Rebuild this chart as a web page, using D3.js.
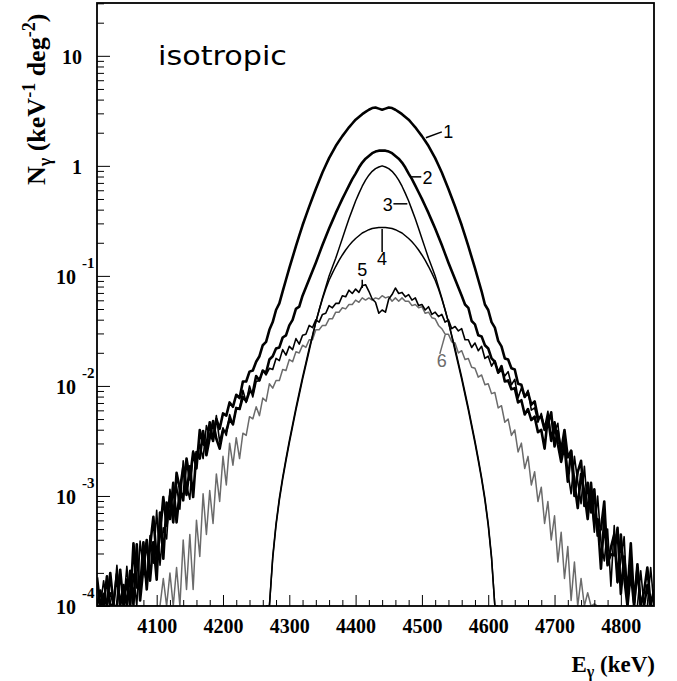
<!DOCTYPE html>
<html>
<head>
<meta charset="utf-8">
<script src="https://cdn.jsdelivr.net/npm/d3@7"></script>
<style>
  body { margin: 0; background: #fff; }
  svg { display: block; }
</style>
</head>
<body>
<div id="chart"></div>
<script>
// bin centres (keV)
const energies = d3.range(4010, 4851, 5);
const energiesNarrow = d3.range(4265, 4616, 5);

// log10 of N_gamma
const logN1 = [
  -3.74,-4.25,-3.89,-4.37,-3.7,-4.02,-4.25,-3.67,-4.05,-3.76,
  -4.22,-3.43,-3.83,-3.85,-3.42,-3.85,-3.46,-3.19,-3.57,-3.35,
  -3.01,-3.27,-3.0,-3.24,-2.79,-2.94,-3.04,-2.66,-2.85,-2.6,
  -2.75,-2.4,-2.53,-2.55,-2.33,-2.5,-2.3,-2.39,-2.25,-2.27,
  -2.15,-2.19,-2.08,-2.11,-1.96,-1.96,-1.87,-1.86,-1.78,-1.73,
  -1.63,-1.6,-1.49,-1.42,-1.31,-1.25,-1.14,-1.035,-0.93,-0.83,
  -0.73,-0.635,-0.54,-0.455,-0.37,-0.29,-0.21,-0.135,-0.06,0.005,
  0.07,0.125,0.18,0.225,0.27,0.31,0.35,0.385,0.42,0.445,
  0.47,0.49,0.51,0.525,0.53,0.52,0.51,0.52,0.53,0.525,
  0.51,0.49,0.47,0.445,0.42,0.385,0.35,0.31,0.27,0.225,
  0.18,0.125,0.07,0.005,-0.06,-0.135,-0.21,-0.29,-0.37,-0.455,
  -0.54,-0.635,-0.73,-0.83,-0.93,-1.035,-1.14,-1.26,-1.31,-1.42,
  -1.47,-1.59,-1.64,-1.75,-1.76,-1.84,-1.85,-1.98,-1.99,-2.1,
  -2.06,-2.17,-2.14,-2.29,-2.28,-2.4,-2.34,-2.24,-2.55,-2.41,
  -2.59,-2.4,-2.65,-2.59,-3.0,-2.78,-2.68,-3.09,-2.88,-3.15,
  -2.94,-3.36,-3.3,-3.05,-3.61,-3.53,-3.54,-3.29,-3.89,-3.55,
  -3.89,-3.43,-3.97,-3.66,-4.3,-3.87,-3.65,-4.27,-3.85
];
const logN2 = [
  -4.38,-3.86,-4.2,-3.73,-4.41,-3.98,-3.71,-4.18,-3.81,-4.32,
  -3.68,-3.99,-3.44,-3.95,-3.65,-3.4,-3.77,-3.42,-3.76,-3.15,
  -3.57,-3.06,-3.21,-2.88,-3.24,-2.94,-2.74,-2.99,-2.73,-3.01,
  -2.6,-2.66,-2.41,-2.63,-2.47,-2.32,-2.48,-2.57,-2.41,-2.41,
  -2.3,-2.35,-2.2,-2.21,-2.1,-2.14,-2.05,-2.06,-1.91,-1.95,
  -1.86,-1.88,-1.76,-1.73,-1.66,-1.65,-1.56,-1.54,-1.45,-1.4,
  -1.3,-1.28,-1.18,-1.105,-1.03,-0.955,-0.88,-0.8,-0.72,-0.645,
  -0.57,-0.5,-0.43,-0.365,-0.3,-0.24,-0.18,-0.12,-0.07,-0.015,
  0.03,0.065,0.09,0.115,0.13,0.138,0.14,0.138,0.13,0.115,
  0.09,0.065,0.03,-0.015,-0.07,-0.12,-0.18,-0.24,-0.3,-0.365,
  -0.43,-0.5,-0.57,-0.645,-0.72,-0.8,-0.88,-0.955,-1.03,-1.105,
  -1.18,-1.26,-1.29,-1.41,-1.44,-1.54,-1.55,-1.63,-1.66,-1.75,
  -1.78,-1.88,-1.82,-1.96,-1.95,-2.03,-2.02,-2.15,-2.13,-2.26,
  -2.21,-2.31,-2.28,-2.42,-2.4,-2.57,-2.28,-2.5,-2.33,-2.53,
  -2.69,-2.54,-2.87,-2.59,-2.88,-3.11,-2.8,-2.97,-3.21,-2.88,
  -3.24,-3.21,-3.66,-3.2,-3.63,-3.47,-3.35,-3.78,-3.35,-3.74,
  -4.14,-3.69,-4.13,-3.62,-4.06,-4.38,-3.81,-4.03,-4.36
];
const logN3 = [
  -4.5,-4.0,-3.55,-3.25,-3.02,-2.83,-2.66,-2.5,-2.35,-2.2,
  -2.06,-1.92,-1.79,-1.66,-1.54,-1.42,-1.31,-1.2,-1.1,-1.0,
  -0.92,-0.84,-0.75,-0.66,-0.57,-0.48,-0.4,-0.32,-0.25,-0.185,
  -0.13,-0.085,-0.05,-0.025,-0.01,0.0,-0.01,-0.025,-0.05,-0.085,
  -0.13,-0.185,-0.25,-0.32,-0.4,-0.48,-0.57,-0.66,-0.75,-0.84,
  -0.92,-1.0,-1.1,-1.2,-1.31,-1.42,-1.54,-1.66,-1.79,-1.92,
  -2.06,-2.2,-2.35,-2.5,-2.66,-2.83,-3.02,-3.25,-3.55,-4.0,-4.5
];
const logN4 = [
  -4.5,-4.02,-3.57,-3.27,-3.04,-2.85,-2.68,-2.52,-2.37,-2.22,
  -2.08,-1.94,-1.81,-1.68,-1.55,-1.42,-1.31,-1.21,-1.12,-1.04,
  -0.975,-0.915,-0.86,-0.81,-0.765,-0.725,-0.69,-0.66,-0.635,-0.61,
  -0.595,-0.58,-0.57,-0.565,-0.561,-0.56,-0.561,-0.565,-0.57,-0.58,
  -0.595,-0.61,-0.635,-0.66,-0.69,-0.725,-0.765,-0.81,-0.86,-0.915,
  -0.975,-1.04,-1.12,-1.21,-1.31,-1.42,-1.55,-1.68,-1.81,-1.94,
  -2.08,-2.22,-2.37,-2.52,-2.68,-2.85,-3.04,-3.27,-3.57,-4.02,-4.5
];
const logN5 = [
  -4.05,-4.43,-3.77,-4.2,-3.88,-4.3,-3.63,-4.05,-4.33,-3.64,
  -4.05,-3.71,-4.11,-3.41,-3.66,-3.79,-3.36,-3.61,-3.13,-3.63,
  -3.29,-3.39,-2.94,-3.15,-2.91,-3.12,-2.68,-2.9,-3.03,-2.59,
  -2.7,-2.53,-2.66,-2.36,-2.46,-2.49,-2.27,-2.51,-2.38,-2.45,
  -2.26,-2.35,-2.2,-2.21,-2.04,-2.15,-2.0,-2.1,-1.96,-1.95,
  -1.86,-1.9,-1.84,-1.85,-1.75,-1.77,-1.67,-1.72,-1.64,-1.67,
  -1.57,-1.62,-1.54,-1.53,-1.45,-1.47,-1.4,-1.42,-1.35,-1.34,
  -1.27,-1.29,-1.25,-1.25,-1.18,-1.19,-1.13,-1.16,-1.12,-1.15,
  -1.09,-1.08,-1.14,-1.21,-1.24,-1.34,-1.31,-1.33,-1.21,-1.17,
  -1.11,-1.16,-1.15,-1.19,-1.17,-1.22,-1.2,-1.27,-1.26,-1.31,
  -1.28,-1.35,-1.33,-1.37,-1.35,-1.42,-1.4,-1.48,-1.46,-1.5,
  -1.48,-1.58,-1.58,-1.65,-1.61,-1.68,-1.64,-1.75,-1.73,-1.82,
  -1.77,-1.88,-1.86,-1.91,-1.87,-1.99,-1.94,-2.11,-2.02,-2.1,
  -2.04,-2.22,-2.2,-2.33,-2.25,-2.38,-2.23,-2.49,-2.42,-2.34,
  -2.66,-2.49,-2.78,-2.98,-2.64,-2.87,-3.07,-2.73,-3.12,-3.0,
  -3.33,-3.0,-3.41,-3.59,-3.3,-3.82,-3.27,-3.79,-3.58,-3.37,
  -4.11,-3.61,-4.0,-4.29,-3.68,-4.0,-4.28,-3.65,-4.23
];
const logN6 = [
  -4.3,-4.3,-4.3,-4.3,-4.3,-4.3,-4.3,-4.3,-4.3,-4.3,
  -4.3,-4.3,-4.3,-4.3,-4.3,-4.3,-4.3,-4.3,-4.3,-4.4,
  -3.75,-4.3,-3.7,-4.35,-3.65,-4.1,-3.4,-3.85,-3.35,-3.85,
  -3.22,-3.55,-2.98,-3.35,-2.95,-3.25,-2.8,-3.05,-2.64,-2.9,
  -2.52,-2.72,-2.47,-2.66,-2.43,-2.45,-2.28,-2.3,-2.19,-2.27,
  -2.11,-2.14,-1.98,-2.02,-1.95,-1.95,-1.85,-1.86,-1.76,-1.78,
  -1.69,-1.7,-1.63,-1.65,-1.58,-1.58,-1.49,-1.49,-1.45,-1.45,
  -1.39,-1.39,-1.33,-1.33,-1.29,-1.3,-1.26,-1.26,-1.22,-1.24,
  -1.2,-1.22,-1.2,-1.22,-1.2,-1.21,-1.18,-1.2,-1.19,-1.23,
  -1.2,-1.23,-1.2,-1.23,-1.23,-1.27,-1.26,-1.29,-1.28,-1.34,
  -1.33,-1.38,-1.39,-1.45,-1.48,-1.53,-1.53,-1.6,-1.61,-1.7,
  -1.68,-1.76,-1.75,-1.83,-1.84,-1.92,-1.9,-1.99,-1.98,-2.07,
  -2.06,-2.2,-2.18,-2.33,-2.3,-2.45,-2.4,-2.6,-2.52,-2.75,
  -2.64,-2.9,-2.78,-3.05,-2.92,-3.25,-3.05,-3.4,-3.18,-3.6,
  -3.33,-3.75,-3.46,-3.95,-3.6,-4.1,-3.75,-4.2,-3.88,-4.3,
  -3.98,-4.3,-4.1,-4.3,-4.3,-4.3,-4.3,-4.3,-4.3,-4.3,
  -4.3,-4.3,-4.3,-4.3,-4.3,-4.3,-4.3,-4.3,-4.3
];

const xTicks = [4100, 4200, 4300, 4400, 4500, 4600, 4700, 4800];
const yDecades = [1e-4, 1e-3, 1e-2, 1e-1, 1, 10];
const yExponents = ["-4", "-3", "-2", "-1", "", ""];
const curveNames = ["1", "2", "3", "4", "5", "6"];

const W = 677, H = 681;
const plot = {left: 97, top: 3, right: 654, bottom: 606};
const serif = "'Liberation Serif', 'Times New Roman', serif";
const sans = "'Liberation Sans', Arial, sans-serif";
const grey = "#6b6b6b";

const x = d3.scaleLinear().domain([4010, 4850]).range([plot.left, plot.right]);
const y = d3.scaleLog().domain([1e-4, Math.pow(10, 1.48)]).range([plot.bottom, plot.top]);

const svg = d3.select("#chart").append("svg")
    .attr("width", W)
    .attr("height", H);

svg.append("rect").attr("width", W).attr("height", H).attr("fill", "white");

svg.append("clipPath")
    .attr("id", "plot-area")
    .append("rect")
    .attr("x", plot.left)
    .attr("y", plot.top)
    .attr("width", plot.right - plot.left)
    .attr("height", plot.bottom - plot.top);

// curves, grey one underneath
const series = [
    {e: energies, v: logN6, color: grey, width: 1.5},
    {e: energies, v: logN5, color: "#000", width: 1.6},
    {e: energiesNarrow, v: logN4, color: "#000", width: 1.5},
    {e: energiesNarrow, v: logN3, color: "#000", width: 1.5},
    {e: energies, v: logN2, color: "#000", width: 2.6},
    {e: energies, v: logN1, color: "#000", width: 2.6}
];

const line = d3.line()
    .x(d => x(d[0]))
    .y(d => y(Math.max(d[1], 1e-4)));

const curves = svg.append("g").attr("clip-path", "url(#plot-area)");

series.forEach(s => {
    const pts = s.e.map((e, i) => [e, Math.pow(10, s.v[i])]);
    curves.append("path")
        .datum(pts)
        .attr("fill", "none")
        .attr("stroke", s.color)
        .attr("stroke-width", s.width)
        .attr("stroke-linejoin", "round")
        .attr("d", line);
});

// x axis ticks (pointing up) and labels
const xMinor = d3.range(4020, 4850, 20).filter(v => v % 100 !== 0);
const gxMinor = svg.append("g")
    .attr("transform", `translate(0,${plot.bottom})`)
    .call(d3.axisBottom(x).tickValues(xMinor).tickSizeInner(-6).tickSizeOuter(0).tickFormat(""));
gxMinor.select(".domain").remove();

const gx = svg.append("g")
    .attr("transform", `translate(0,${plot.bottom})`)
    .call(d3.axisBottom(x).tickValues(xTicks).tickSizeInner(-11).tickSizeOuter(0).tickPadding(13).tickFormat(d3.format("d")));
gx.select(".domain").remove();
gx.attr("font-family", serif).attr("font-size", 20).attr("font-weight", "bold");

// y axis ticks (pointing right)
const yMinor = [];
yDecades.forEach(d => { for (let k = 2; k <= 9; k++) yMinor.push(d * k); });
const yMinorShown = yMinor.filter(v => v < y.domain()[1]);
const gyMinor = svg.append("g")
    .attr("transform", `translate(${plot.left},0)`)
    .call(d3.axisLeft(y).tickValues(yMinorShown).tickSizeInner(-7).tickSizeOuter(0).tickFormat(""));
gyMinor.select(".domain").remove();

const gy = svg.append("g")
    .attr("transform", `translate(${plot.left},0)`)
    .call(d3.axisLeft(y).tickValues(yDecades).tickSizeInner(-13).tickSizeOuter(0).tickFormat(""));
gy.select(".domain").remove();

// y tick labels, 10 with superscript exponent
const yLab = svg.append("g")
    .attr("font-family", serif)
    .attr("font-weight", "bold")
    .attr("fill", "#000");

yDecades.forEach((d, i) => {
    const ty = y(d);
    if (yExponents[i] === "") {
        yLab.append("text")
            .attr("x", plot.left - 15)
            .attr("y", ty + 8)
            .attr("text-anchor", "end")
            .attr("font-size", 20)
            .text(d === 1 ? "1" : "10");
    } else {
        yLab.append("text")
            .attr("x", plot.left - 21)
            .attr("y", ty + 8)
            .attr("text-anchor", "end")
            .attr("font-size", 20)
            .text("10");
        yLab.append("text")
            .attr("x", plot.left - 15)
            .attr("y", ty - 8)
            .attr("text-anchor", "start")
            .attr("font-size", 15)
            .text(yExponents[i]);
    }
});

// axis titles
const xt = svg.append("text")
    .attr("x", plot.right + 1)
    .attr("y", 672)
    .attr("text-anchor", "end")
    .attr("font-family", serif)
    .attr("font-weight", "bold")
    .attr("font-size", 23);
xt.append("tspan").text("E");
xt.append("tspan").attr("font-size", 16).attr("dy", 5).text("\u03b3");
xt.append("tspan").attr("dy", -5).text(" (keV)");

const yt = svg.append("text")
    .attr("transform", "translate(45,185) rotate(-90)")
    .attr("text-anchor", "start")
    .attr("font-family", serif)
    .attr("font-weight", "bold")
    .attr("font-size", 26);
yt.append("tspan").text("N");
yt.append("tspan").attr("font-size", 18).attr("dy", 6).text("\u03b3");
yt.append("tspan").attr("dy", -6).text(" (keV");
yt.append("tspan").attr("font-size", 18).attr("dy", -10).text("-1");
yt.append("tspan").attr("dy", 10).text(" deg");
yt.append("tspan").attr("font-size", 18).attr("dy", -10).text("-2");
yt.append("tspan").attr("dy", 10).text(")");

// panel title
svg.append("text")
    .attr("x", 158)
    .attr("y", 65)
    .attr("font-family", "'DejaVu Sans', sans-serif")
    .attr("font-size", 26)
    .attr("textLength", 129)
    .attr("lengthAdjust", "spacingAndGlyphs")
    .attr("fill", "#000")
    .text("isotropic");

// curve labels with leader lines, placed in data coordinates (keV, log10 N)
const labelLayout = [
    {line: [[4506, 0.255], [4530, 0.309]], at: [4532, 0.255], anchor: "start", color: "#000"},
    {line: [[4482, -0.1], [4499, -0.1]], at: [4501, -0.164], anchor: "start", color: "#000"},
    {line: [[4457, -0.345], [4478, -0.345]], at: [4456, -0.41], anchor: "end", color: "#000"},
    {line: [[4440, -0.573], [4440, -0.782]], at: [4440, -0.9], anchor: "middle", color: "#000"},
    {line: [[4410, -1.036], [4410, -1.109]], at: [4410, -1.0], anchor: "middle", color: "#000"},
    {line: [[4535, -1.536], [4527, -1.709]], at: [4530, -1.827], anchor: "middle", color: grey}
];

const ann = svg.append("g").attr("font-family", sans).attr("font-size", 18);
labelLayout.forEach((l, i) => {
    ann.append("line")
        .attr("x1", x(l.line[0][0])).attr("y1", y(Math.pow(10, l.line[0][1])))
        .attr("x2", x(l.line[1][0])).attr("y2", y(Math.pow(10, l.line[1][1])))
        .attr("stroke", l.color)
        .attr("stroke-width", 1.5);
    ann.append("text")
        .attr("x", x(l.at[0]))
        .attr("y", y(Math.pow(10, l.at[1])))
        .attr("text-anchor", l.anchor)
        .attr("fill", l.color)
        .text(curveNames[i]);
});

// frame
svg.append("rect")
    .attr("x", plot.left)
    .attr("y", plot.top)
    .attr("width", plot.right - plot.left)
    .attr("height", plot.bottom - plot.top)
    .attr("fill", "none")
    .attr("stroke", "#000")
    .attr("stroke-width", 1.8);
</script>
</body>
</html>
